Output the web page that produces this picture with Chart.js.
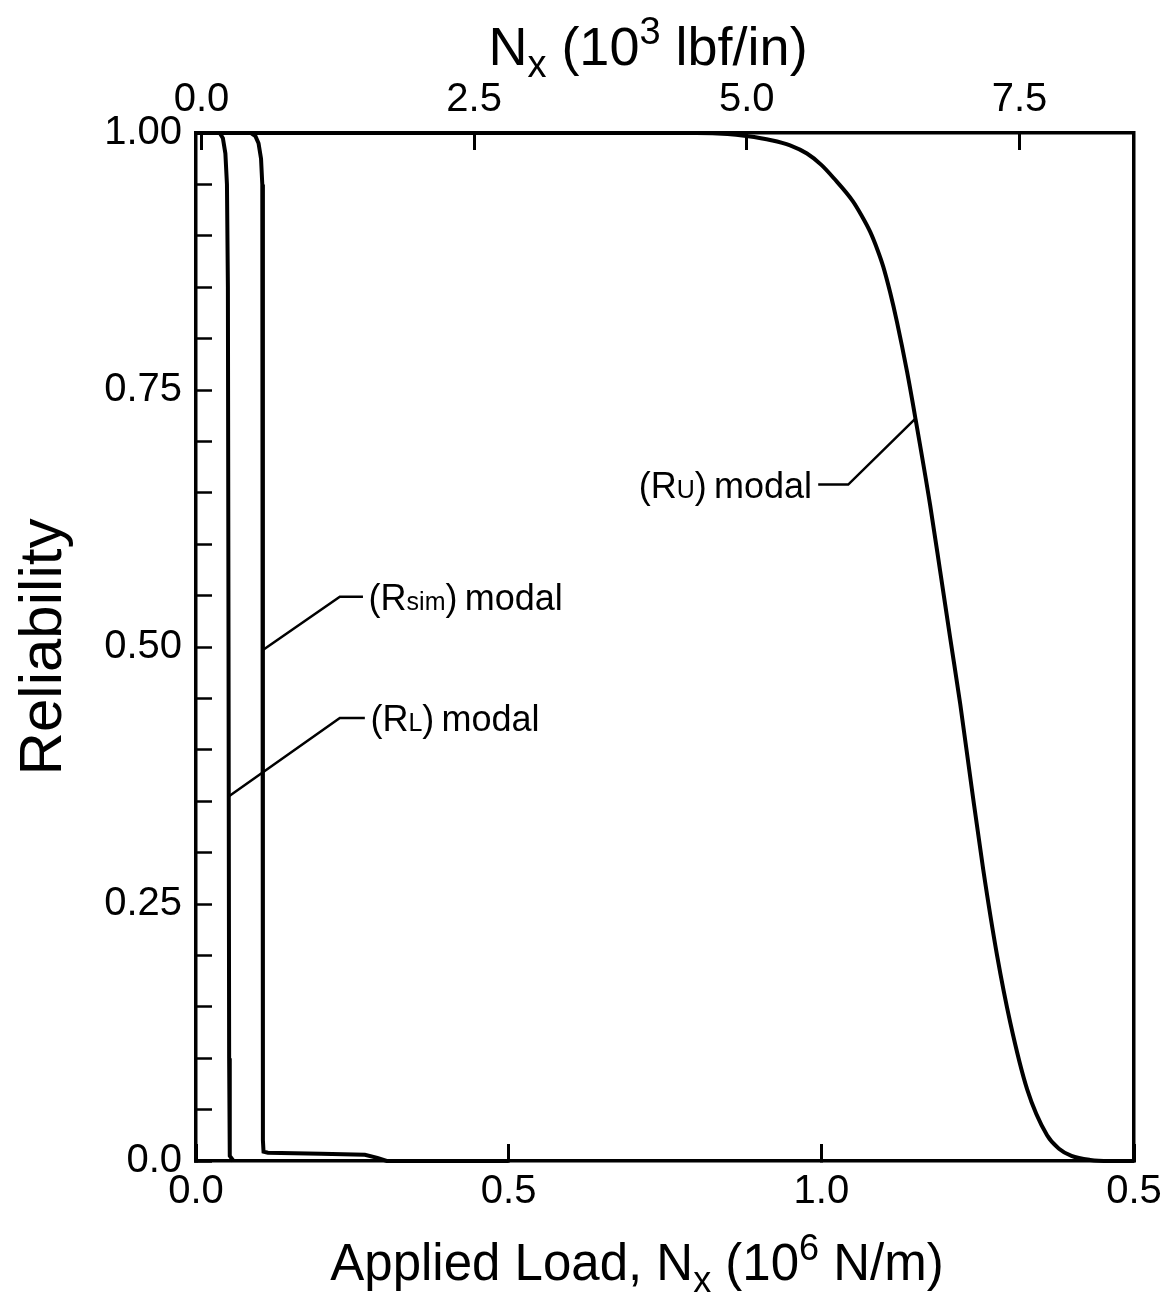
<!DOCTYPE html>
<html>
<head>
<meta charset="utf-8">
<style>
  html, body { margin: 0; padding: 0; background: #fff; }
  #wrap { width: 1166px; height: 1297px; position: relative; }
</style>
</head>
<body>
<div id="wrap"><canvas id="chart"></canvas></div>

<script src="https://cdn.jsdelivr.net/npm/chart.js"></script>

<script>
  // applied load in 10^6 N/m, reliability
  const loadRL = [0, 0.038, 0.043, 0.047, 0.0495, 0.051, 0.052, 0.053, 0.054, 0.06];
  const relRL  = [1, 1, 0.995, 0.98, 0.95, 0.85, 0.5, 0.1, 0.005, 0];

  const loadRsim = [0, 0.088, 0.095, 0.1, 0.104, 0.106, 0.107, 0.107, 0.108, 0.115, 0.2, 0.27, 0.29, 0.305, 0.5];
  const relRsim  = [1, 1, 0.997, 0.99, 0.975, 0.95, 0.5, 0.02, 0.009, 0.008, 0.007, 0.006, 0.003, 0, 0];

  const loadRU = [0, 0.80, 0.85, 0.88, 0.92, 0.95, 0.977, 1.00, 1.02, 1.05, 1.065, 1.078, 1.09, 1.099, 1.11,
                  1.121, 1.137, 1.150, 1.174, 1.190, 1.206, 1.222, 1.240, 1.259, 1.281, 1.302, 1.329, 1.361,
                  1.38, 1.40, 1.43, 1.46, 1.5];
  const relRU  = [1, 1, 0.999, 0.997, 0.993, 0.988, 0.980, 0.969, 0.956, 0.934, 0.919, 0.904, 0.886, 0.870, 0.845,
                  0.816, 0.768, 0.724, 0.638, 0.574, 0.509, 0.445, 0.365, 0.283, 0.200, 0.135, 0.070, 0.025,
                  0.012, 0.005, 0.001, 0, 0];

  // tick labels
  const yTickValues = [0, 0.25, 0.5, 0.75, 1];
  const yTickLabels = ['0.0', '0.25', '0.50', '0.75', '1.00'];
  const xTickValues = [0, 0.5, 1.0, 1.5];
  const xTickLabels = ['0.0', '0.5', '1.0', '0.5'];
  const topTickValues = [0, 2.5, 5.0, 7.5];
  const topTickLabels = ['0.0', '2.5', '5.0', '7.5'];

  const FONT = '"Liberation Sans", Arial, Helvetica, sans-serif';

  function pts(xs, ys) {
    return xs.map((x, i) => ({ x: x, y: ys[i] }));
  }

  function labelFor(values, labels, v) {
    const i = values.findIndex(t => Math.abs(t - v) < 1e-6);
    return i >= 0 ? labels[i] : '';
  }

  // draw a string made of pieces with different sizes / offsets (sub and superscripts)
  function richText(ctx, parts, x, y, align) {
    let total = 0;
    parts.forEach(p => {
      ctx.font = p[1] + 'px ' + FONT;
      total += ctx.measureText(p[0]).width;
    });
    let cx = align === 'center' ? x - total / 2 : align === 'right' ? x - total : x;
    ctx.textAlign = 'left';
    ctx.textBaseline = 'alphabetic';
    parts.forEach(p => {
      ctx.font = p[1] + 'px ' + FONT;
      ctx.fillText(p[0], cx, y + (p[2] || 0));
      cx += ctx.measureText(p[0]).width;
    });
  }

  const labelsPlugin = {
    id: 'labels',
    afterDatasetsDraw(chart) {
      const ctx = chart.ctx;
      const xs = chart.scales.x, ys = chart.scales.y;
      const px = v => xs.getPixelForValue(v);
      const py = v => ys.getPixelForValue(v);
      ctx.save();
      ctx.fillStyle = '#000';
      ctx.strokeStyle = '#000';
      ctx.lineWidth = 2.5;

      // leader lines: [curve point, elbow, end]
      const leaders = [
        [[0.107, 0.497], [0.230, 0.549], [0.267, 0.549]],
        [[0.051, 0.354], [0.230, 0.431], [0.270, 0.431]],
        [[1.150, 0.722], [1.043, 0.658], [0.995, 0.658]]
      ];
      leaders.forEach(l => {
        ctx.beginPath();
        ctx.moveTo(px(l[0][0]), py(l[0][1]));
        ctx.lineTo(px(l[1][0]), py(l[1][1]));
        ctx.lineTo(px(l[2][0]), py(l[2][1]));
        ctx.stroke();
      });

      richText(ctx, [['(R', 36], ['sim', 25], [')\u2009modal', 36]], px(0.276), py(0.549) + 13, 'left');
      richText(ctx, [['(R', 36], ['L', 25], [')\u2009modal', 36]], px(0.279), py(0.431) + 13, 'left');
      richText(ctx, [['(R', 36], ['U', 25], [')\u2009modal', 36]], px(0.985), py(0.658) + 13, 'right');
      ctx.restore();
    },
    afterDraw(chart) {
      const ctx = chart.ctx;
      ctx.save();
      ctx.fillStyle = '#000';
      richText(ctx, [['N', 54], ['x', 38, 12], [' (10', 54], ['3', 38, -21], [' lbf/in)', 54]], 648, 65, 'center');
      richText(ctx, [['Applied Load, N', 51], ['x', 36, 12], [' (10', 51], ['6', 36, -20], [' N/m)', 51]], 637, 1280, 'center');
      ctx.translate(61, 647);
      ctx.rotate(-Math.PI / 2);
      richText(ctx, [['Reliability', 60]], 0, 0, 'center');
      ctx.restore();
    }
  };

  const lineStyle = {
    borderColor: '#000',
    borderWidth: 4,
    pointRadius: 0,
    fill: false,
    clip: 4
  };

  const chart = new Chart(document.getElementById('chart').getContext('2d'), {
    type: 'line',
    data: {
      datasets: [
        Object.assign({ label: '(RL) modal', data: pts(loadRL, relRL), tension: 0 }, lineStyle),
        Object.assign({ label: '(Rsim) modal', data: pts(loadRsim, relRsim), tension: 0 }, lineStyle),
        Object.assign({ label: '(RU) modal', data: pts(loadRU, relRU), cubicInterpolationMode: 'monotone' }, lineStyle)
      ]
    },
    options: {
      responsive: true,
      maintainAspectRatio: false,
      devicePixelRatio: 1,
      animation: false,
      layout: { padding: 0 },
      plugins: {
        legend: { display: false },
        tooltip: { enabled: false }
      },
      scales: {
        x: {
          type: 'linear',
          position: 'bottom',
          min: 0,
          max: 1.5,
          afterBuildTicks: s => { s.ticks = xTickValues.map(v => ({ value: v })); },
          afterFit: s => { s.height = 136; s.paddingLeft = 0; s.paddingRight = 0; },
          border: { display: true, color: '#000', width: 3.5 },
          grid: { drawOnChartArea: false, tickLength: -17, tickWidth: 3, tickColor: '#000' },
          ticks: {
            autoSkip: false,
            maxRotation: 0,
            padding: 24,
            color: '#000',
            font: { family: FONT, size: 40 },
            callback: v => labelFor(xTickValues, xTickLabels, v)
          }
        },
        x2: {
          type: 'linear',
          position: 'top',
          min: -0.05,
          max: 8.55,
          afterBuildTicks: s => { s.ticks = topTickValues.map(v => ({ value: v })); },
          afterFit: s => { s.height = 133; s.paddingLeft = 0; s.paddingRight = 0; },
          border: { display: true, color: '#000', width: 3.5 },
          grid: { drawOnChartArea: false, tickLength: -17, tickWidth: 3, tickColor: '#000' },
          ticks: {
            autoSkip: false,
            maxRotation: 0,
            padding: 26,
            color: '#000',
            font: { family: FONT, size: 40 },
            callback: v => labelFor(topTickValues, topTickLabels, v)
          }
        },
        y: {
          type: 'linear',
          position: 'left',
          min: 0,
          max: 1,
          afterBuildTicks: s => {
            const t = [];
            for (let i = 0; i <= 20; i++) t.push({ value: Math.round(i * 5) / 100 });
            s.ticks = t;
          },
          afterFit: s => { s.width = 196; },
          border: { display: true, color: '#000', width: 3.5 },
          grid: { drawOnChartArea: false, tickLength: -16, tickWidth: 2.5, tickColor: '#000' },
          ticks: {
            autoSkip: false,
            padding: 30,
            color: '#000',
            font: { family: FONT, size: 40 },
            callback: v => labelFor(yTickValues, yTickLabels, v)
          }
        },
        y2: {
          type: 'linear',
          position: 'right',
          min: 0,
          max: 1,
          afterFit: s => { s.width = 32; },
          border: { display: true, color: '#000', width: 3.5 },
          grid: { drawOnChartArea: false, drawTicks: false },
          ticks: { display: false }
        }
      }
    },
    plugins: [labelsPlugin]
  });
</script>
</body>
</html>
